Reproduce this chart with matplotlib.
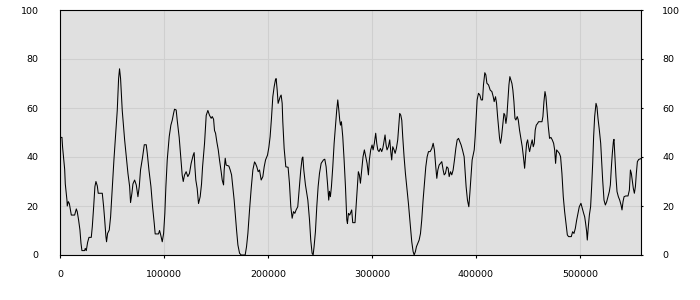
import numpy as np
import matplotlib
matplotlib.use("Agg")
import matplotlib.pyplot as plt

# x positions (thousands) and values
x_k = [0, 1.6, 2.2, 4.2, 4.8, 6.4, 6.7, 7.7, 8.7, 10.6, 13.8, 15.4, 16.3, 17.6, 18.9, 19.9, 20.8, 23.4, 24.0, 25.0,
       26.3, 27.6, 29.8, 30.8, 32.1, 33.3, 34.3, 35.6, 36.5, 40.4, 41.7, 42.6, 43.9, 44.5, 45.5, 47.1, 48.4, 49.7, 51.6, 53.2,
       54.8, 56.1, 57.0, 58.0, 59.6, 61.9, 63.5, 65.1, 66.7, 67.6, 68.9, 69.9, 71.5, 73.1, 74.7, 76.0, 77.2, 79.2, 80.8, 82.7,
       83.7, 85.3, 87.2, 88.8, 90.4, 91.3, 94.5, 95.5, 96.5, 98.1, 99.4, 100.6, 101.6, 102.9, 104.8, 106.4, 107.7, 109.0, 109.9, 111.5,
       112.5, 114.4, 116.0, 117.3, 118.3, 119.5, 121.1, 122.7, 124.3, 125.9, 127.9, 128.8, 129.5, 130.4, 131.7, 133.0, 134.6, 135.9, 136.9, 138.8,
       140.4, 142.0, 143.6, 145.2, 146.2, 147.5, 148.4, 149.4, 150.7, 152.0, 153.2, 154.8, 155.8, 157.1, 157.7, 158.7, 159.6, 162.2, 163.5, 164.8,
       166.0, 167.3, 168.3, 169.6, 170.9, 172.5, 174.1, 177.9, 179.2, 180.5, 182.1, 183.7, 185.3, 186.9, 187.8, 189.1, 190.4, 191.7, 193.3, 194.9,
       196.2, 197.5, 199.4, 200.7, 201.9, 203.2, 204.5, 205.8, 207.1, 207.7, 208.7, 209.6, 210.6, 211.6, 212.5, 213.5, 214.1, 215.4, 217.0, 219.2,
       220.5, 221.8, 223.1, 224.4, 225.7, 226.9, 228.5, 230.1, 231.4, 232.7, 233.4, 234.3, 235.9, 238.2, 239.8, 241.0, 242.3, 243.3, 244.2, 245.5,
       246.8, 248.1, 249.4, 251.0, 253.2, 254.5, 255.8, 257.1, 258.3, 259.0, 259.9, 260.9, 262.2, 263.5, 264.8, 266.0, 267.0, 268.0, 268.9, 269.6,
       270.5, 271.8, 273.1, 274.4, 275.7, 276.3, 277.3, 278.5, 279.8, 280.4, 281.4, 283.6, 284.6, 285.9, 286.8, 287.8, 288.8, 290.0, 291.3, 292.6,
       293.9, 295.2, 296.5, 297.4, 298.7, 300.0, 301.0, 302.2, 303.5, 304.5, 305.5, 306.7, 308.0, 309.3, 310.3, 311.2, 312.5, 313.5, 314.4, 315.7,
       317.0, 318.0, 318.9, 319.9, 321.2, 322.2, 323.4, 324.7, 325.7, 326.6, 327.6, 328.6, 329.5, 330.8, 332.1, 333.4, 335.0, 336.3, 337.2, 338.2,
       339.5, 340.5, 341.7, 342.7, 344.0, 345.3, 346.6, 347.8, 349.1, 350.4, 351.7, 353.0, 354.3, 355.9, 357.5, 358.8, 360.0, 361.3, 362.3, 363.3,
       364.5, 365.8, 367.1, 368.4, 369.4, 370.6, 371.9, 373.2, 374.2, 375.5, 376.7, 378.0, 379.3, 380.6, 381.9, 383.2, 384.4, 385.7, 387.0, 388.6,
       389.6, 390.5, 391.8, 393.1, 394.1, 395.4, 396.3, 397.3, 398.3, 399.2, 400.2, 401.1, 402.4, 403.7, 405.0, 406.3, 407.2, 408.5, 409.5, 410.5,
       412.1, 413.7, 415.3, 416.6, 417.5, 418.8, 419.8, 420.8, 421.7, 422.7, 423.6, 424.6, 425.6, 426.9, 427.8, 428.8, 429.7, 430.7, 431.7, 432.6,
       433.6, 434.6, 435.5, 436.5, 437.5, 438.4, 439.7, 440.7, 441.9, 443.2, 444.5, 445.8, 446.8, 447.7, 448.7, 449.7, 450.6, 451.6, 452.9, 454.1,
       455.1, 456.1, 457.0, 458.0, 459.3, 460.2, 461.9, 463.5, 464.4, 465.4, 466.4, 467.3, 468.3, 469.6, 470.8, 472.1, 473.4, 474.7, 475.7, 476.6,
       477.6, 478.9, 480.2, 481.4, 482.7, 484.0, 485.3, 486.6, 487.9, 489.1, 491.7, 493.0, 494.3, 495.6, 496.9, 498.1, 499.4, 501.0, 502.3, 503.6,
       504.6, 505.5, 506.5, 507.1, 508.1, 509.1, 510.3, 511.3, 512.3, 513.2, 514.2, 515.5, 516.4, 517.4, 518.7, 520.0, 520.9, 521.9, 523.2, 524.5,
       525.8, 527.0, 528.3, 529.3, 530.3, 531.2, 532.2, 532.8, 533.8, 534.7, 535.7, 537.0, 538.3, 539.6, 540.5, 541.5, 542.5, 544.1, 546.3, 547.6,
       548.6, 549.5, 550.5, 551.4, 552.4, 553.4, 554.3, 555.3, 556.6, 558.5]

values = [48, 48, 44, 35, 29, 22.4, 20, 21.8, 21, 16.3, 16.3, 18.8, 17.7, 14.3, 10.2, 4.8, 1.8, 1.8, 2.7, 1.8,
          5.2, 7.2, 7.2, 11.6, 19.7, 27.9, 30, 28.2, 25.2, 25.2, 19.7, 15, 7.5, 5.4, 8.8, 10.2, 15.6, 25.2, 38.8, 49,
          59, 72, 76, 72, 59, 47, 40, 33.3, 28, 21.4, 25.2, 29, 30.6, 28.6, 23.8, 28, 34.7, 40, 45, 45,
          41.5, 34.7, 28, 19.7, 12.9, 8.6, 8.6, 10, 8.4, 5.4, 8.8, 17, 27.9, 38.8, 48.3, 53, 55, 57.8, 59.5, 59.2,
          55, 48, 39.5, 32.6, 30, 32.6, 34, 32, 33.3, 37.4, 40.8, 41.8, 36, 30.6, 27.2, 21, 23.8, 29, 36, 45.6,
          57, 59, 57, 55.8, 56.5, 55.4, 50.8, 49.7, 46, 42.9, 38.8, 34, 30.6, 28.6, 34.7, 39.5, 36.7, 36.3, 34.7, 32.7,
          27.9, 22.4, 17, 10.2, 4.1, 0.7, 0, 0, 3.4, 8.8, 18.4, 27.2, 34.7, 38, 37.4, 36, 34, 34.7, 30.6, 32,
          36, 38.8, 40.8, 44, 48.3, 55.8, 64.6, 68.7, 71.7, 72, 67.3, 61.9, 63.3, 64.6, 65.3, 61.9, 54.4, 43.5, 36, 35.8,
          29.3, 19.7, 15, 17.7, 17, 18.4, 19.7, 27.9, 34.7, 39.5, 40, 34.7, 28.6, 22.4, 14.3, 6.1, 0.7, 0, 3.4, 9.5,
          19.7, 27.9, 33.3, 37.4, 38.8, 39.1, 36, 29.3, 22.4, 26, 23.8, 27.9, 36, 45.6, 52.4, 59.2, 63.3, 59.2, 55, 53,
          54.4, 48.3, 38.8, 27.9, 14.3, 12.9, 17, 16.3, 17.7, 18.4, 13.2, 13.2, 19.7, 27.9, 34, 32.7, 29.3, 34.7, 40.1, 42.9,
          40.1, 37.4, 32.7, 38.8, 42.9, 44.9, 42.9, 45.6, 49.7, 45.6, 42.9, 42.2, 43.5, 42.2, 43.5, 45.6, 49, 44.9, 42.9, 44.2,
          47, 42.2, 38.8, 44.2, 42.9, 41.5, 43.5, 47, 52.4, 57.8, 57.1, 55, 48.3, 40.1, 33.3, 27.9, 21, 14.3, 10.2, 5.4,
          1.4, 0, 1.4, 3.4, 4.8, 6.1, 8.8, 14.3, 22.4, 29.3, 36, 40.1, 42.2, 42.2, 43.5, 45.6, 42.9, 36, 31.3, 34.7,
          36.7, 37.4, 38.1, 34.7, 32.7, 33.3, 36, 35.4, 32, 34, 32.7, 34.7, 38.8, 43.5, 47, 47.6, 46.3, 44.9, 42.9, 40.1,
          33.3, 27.9, 22.4, 19.7, 25.2, 33.3, 38.8, 40.8, 42.9, 48.3, 56.5, 63.3, 66, 65.3, 63.3, 63.3, 69.4, 74.4, 73.5, 70.1,
          69.4, 67.3, 66.7, 64.6, 62.6, 64.6, 61.9, 56.5, 52.4, 47.6, 45.6, 48.3, 52.4, 57.8, 57.1, 53.7, 56.5, 63.3, 69.4, 72.8,
          71.4, 70, 67.3, 62.6, 55.8, 55.1, 56.5, 55.1, 51, 47.6, 44.2, 39.5, 35.4, 40.1, 45.6, 47, 44.2, 42.2, 44.9, 47,
          44.2, 45.6, 51, 53, 53.7, 54.4, 54.4, 54.4, 56.5, 62.6, 66.7, 64.6, 59.2, 52.4, 47.6, 48, 47, 45.6, 42.9, 37.4,
          42.9, 42.2, 41.5, 40.1, 33.3, 23.8, 17.7, 12.9, 8.2, 7.5, 7.5, 9.5, 8.8, 10.9, 14.3, 17, 19.7, 21.1, 19, 17,
          15.6, 12.9, 9.5, 6.1, 11.6, 16.3, 19.7, 27.9, 37.4, 48.3, 56.5, 61.9, 60.5, 55.8, 51, 45.6, 38.8, 30.6, 22.4, 20.4,
          21.8, 23.8, 25.9, 28.6, 36, 41.5, 46.3, 47.2, 38.8, 32, 25.9, 23.8, 22.4, 20.4, 18.4, 21.8, 23.8, 24.1, 24.1, 26.5,
          34.7, 33.3, 29.9, 27.2, 25.2, 27.9, 33.3, 38.1, 39, 39.3]

x_ticks = [0, 100000, 200000, 300000, 400000, 500000]
y_ticks = [0, 20, 40, 60, 80, 100]

x = np.array(x_k) * 1000

fig = plt.figure(figsize=(7, 3), dpi=100)
ax = fig.add_axes([60.3 / 700, 45 / 300, 580.4 / 700, 245 / 300])
ax.set_facecolor('#e0e0e0')
ax.plot(x, values, color='black', linewidth=0.75, antialiased=True)
ax.set_xlim(0, 558500)
ax.set_ylim(0, 100)
ax.set_xticks(x_ticks)
ax.set_xticklabels([str(t) for t in x_ticks])
ax.set_yticks(y_ticks)
ax.set_yticklabels([str(t) for t in y_ticks])
ax.grid(True, color='#cfcfcf', linewidth=0.8)
ax.set_axisbelow(True)
for s in ax.spines.values():
    s.set_color('black')
    s.set_linewidth(0.8)

ax.tick_params(axis='x', which='both', direction='out', length=2, width=0.8, pad=9, labelsize=6.8)
ax.tick_params(axis='y', which='both', left=False, right=True, labelleft=True, labelright=True,
               direction='out', length=1.5, width=0.8, labelsize=6.8, pad=14)

fig.savefig('out.png', dpi=100)
